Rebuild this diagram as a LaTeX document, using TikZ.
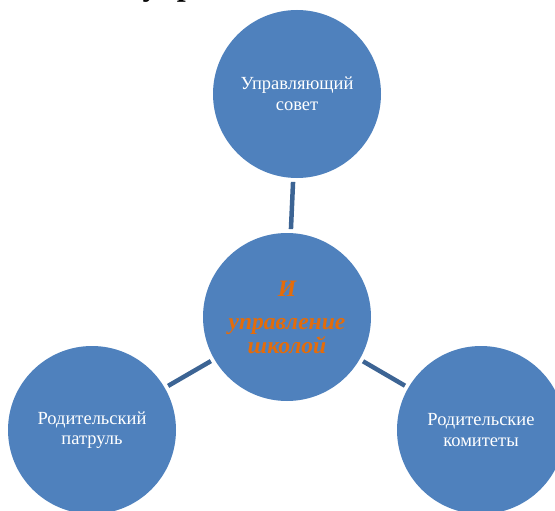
\documentclass[tikz,border=0pt]{standalone}
\usepackage{fontspec}
\setmainfont{Liberation Serif}
\definecolor{bubbleblue}{HTML}{4F81BD}
\definecolor{spokeblue}{HTML}{3C6494}
\definecolor{hubtext}{HTML}{E46C0A}
\tikzset{bubble/.style={
    circle, fill=bubbleblue, minimum size=168pt, inner sep=0pt, outer sep=4pt,
    text=white, align=center, font=\fontsize{18.5}{20.5}\selectfont
  },
  hub/.style={bubble, text=hubtext, font=\fontsize{23.5}{24}\bfseries\itshape},
  spoke/.style={draw=spokeblue, line width=4.5pt}
}
\begin{document}
\begin{tikzpicture}[x=1pt, y=-1pt]
      \useasboundingbox (0,0) rectangle (555,511);
      \clip (0,0) rectangle (555,511);
      \node[font=\fontsize{32}{32}\bfseries, anchor=base west] (title) at (139,-4.5) {управления};
      \node[bubble] (council) at (297,94) {Управляющий\\совет};
      \node[hub] (school) at (287,317) {И\\[9pt]управление\\школой};
      \node[bubble] (patrol) at (92,430) {Родительский\\патруль};
      \node[bubble] (committees) at (481,430) {Родительские\\комитеты};
      \draw[spoke] (school) -- (council);
      \draw[spoke] (school) -- (patrol);
      \draw[spoke] (school) -- (committees);
    \end{tikzpicture}
\end{document}
